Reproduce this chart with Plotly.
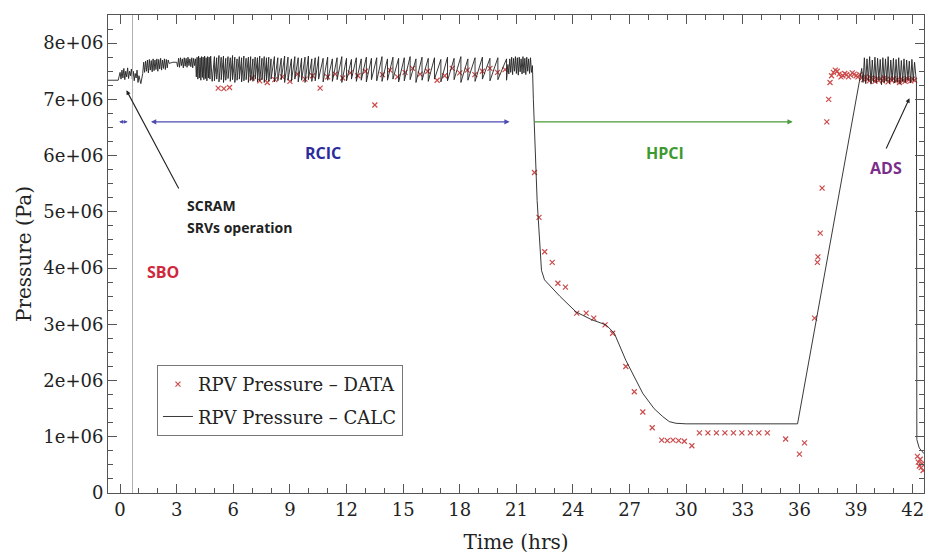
import plotly.graph_objects as go

# ---- CALC: simulated RPV pressure (values in MPa, converted to Pa below) ----
# start of transient, SCRAM / SRV chatter before RCIC takes over
calc_pre_t = [-1.0, -0.1, 0.0, 0.05, 0.1, 0.15, 0.2, 0.25, 0.3, 0.35, 0.4, 0.45, 0.5, 0.55,
              0.6, 0.65, 0.7, 0.75, 0.8, 0.85, 0.9, 0.95, 1.0, 1.1, 1.2,
              1.25, 1.30, 1.35, 1.40, 1.45, 1.50, 1.55, 1.60, 1.65, 1.70, 1.75, 1.80, 1.85,
              1.90, 1.95, 2.00, 2.05, 2.10, 2.15, 2.20, 2.25, 2.30, 2.35, 2.40, 2.45, 2.50,
              2.55, 2.60,
              2.8, 3.0,
              3.05, 3.10, 3.15, 3.20, 3.25, 3.30, 3.35, 3.40, 3.45, 3.50, 3.55, 3.60, 3.65,
              3.70, 3.75, 3.80, 3.85, 3.90, 3.95, 4.00,
              4.04, 4.08, 4.12, 4.16, 4.20, 4.24, 4.28, 4.32, 4.36, 4.40, 4.44, 4.48, 4.52,
              4.56, 4.60, 4.64, 4.68, 4.72, 4.76, 4.80, 4.84, 4.88]
calc_pre_p = [7.34, 7.34, 7.48, 7.36, 7.52, 7.38, 7.55, 7.35, 7.50, 7.40, 7.56, 7.37, 7.50, 7.42,
              7.54, 7.36, 7.50, 7.33, 7.46, 7.38, 7.52, 7.30, 7.42, 7.28, 7.46,
              7.66, 7.48, 7.68, 7.50, 7.70, 7.47, 7.71, 7.52, 7.69, 7.49, 7.72, 7.51, 7.70,
              7.53, 7.72, 7.50, 7.71, 7.54, 7.73, 7.52, 7.70, 7.55, 7.72, 7.53, 7.71, 7.56,
              7.70, 7.64,
              7.66, 7.66,
              7.58, 7.73, 7.57, 7.74, 7.60, 7.72, 7.56, 7.74, 7.59, 7.73, 7.57, 7.75, 7.60,
              7.72, 7.58, 7.74, 7.56, 7.73, 7.60, 7.72,
              7.40, 7.75, 7.36, 7.77, 7.38, 7.74, 7.34, 7.76, 7.39, 7.75, 7.35, 7.77, 7.37,
              7.74, 7.33, 7.76, 7.38, 7.75, 7.36, 7.77, 7.34, 7.32]

# RCIC period: SRV cycling sawtooth (peak time, peak pressure, pressure after the drop)
saw_t = [5.0, 5.12, 5.24, 5.36, 5.48, 5.60, 5.72, 5.84, 5.96, 6.08, 6.20, 6.32, 6.44, 6.56,
         6.68, 6.80, 6.92, 7.04, 7.16, 7.28, 7.40, 7.52, 7.64, 7.76, 7.88, 8.00,
         8.18, 8.36, 8.54, 8.72, 8.90, 9.08, 9.26, 9.44, 9.62, 9.80, 9.98, 10.16, 10.34, 10.52,
         10.76, 11.0, 11.25, 11.50, 11.75, 12.0, 12.26, 12.52, 12.78, 13.05, 13.32, 13.60,
         13.88, 14.17, 14.46, 14.76, 15.06, 15.37, 15.68, 16.0, 16.33, 16.66, 17.0, 17.35,
         17.70, 18.06, 18.43, 18.81, 19.20, 19.60, 20.02, 20.48]
saw_peak = [7.76, 7.74, 7.78, 7.75, 7.77, 7.73, 7.76, 7.74, 7.78, 7.75,
            7.72, 7.76, 7.74, 7.77, 7.73, 7.75, 7.76, 7.72, 7.75, 7.74,
            7.77, 7.73, 7.76, 7.74, 7.75, 7.72, 7.76, 7.74, 7.73, 7.77,
            7.75, 7.72, 7.76, 7.74, 7.73, 7.75, 7.77, 7.72, 7.74, 7.76,
            7.73, 7.75, 7.72, 7.74, 7.76, 7.73, 7.71, 7.74, 7.72, 7.75,
            7.73, 7.74, 7.76, 7.72, 7.75, 7.73, 7.74, 7.76, 7.72, 7.75,
            7.73, 7.74, 7.71, 7.75, 7.73, 7.76, 7.72, 7.74, 7.75, 7.73,
            7.74, 7.72]
saw_low = [7.33, 7.36, 7.31, 7.35, 7.30, 7.34, 7.37, 7.32, 7.35, 7.30,
           7.34, 7.36, 7.31, 7.33, 7.35, 7.30, 7.34, 7.32, 7.36, 7.31,
           7.33, 7.35, 7.30, 7.34, 7.32, 7.36, 7.31, 7.33, 7.35, 7.30,
           7.34, 7.32, 7.36, 7.31, 7.34, 7.30, 7.35, 7.32, 7.33, 7.36,
           7.31, 7.34, 7.32, 7.35, 7.30, 7.33, 7.36, 7.32, 7.34, 7.31,
           7.35, 7.33, 7.32, 7.34, 7.36, 7.31, 7.33, 7.35, 7.30, 7.34,
           7.32, 7.36, 7.31, 7.33, 7.35, 7.30, 7.34, 7.32, 7.36, 7.33,
           7.35, 7.34]

# rapid SRV chatter before the switch to HPCI
calc_chat_t = [20.55, 20.6, 20.65, 20.7, 20.75, 20.8, 20.85, 20.9, 20.95, 21.0, 21.05, 21.1,
               21.15, 21.2, 21.25, 21.3, 21.35, 21.4, 21.45, 21.5, 21.55, 21.6, 21.65, 21.7,
               21.75, 21.8, 21.85]
calc_chat_p = [7.62, 7.45, 7.72, 7.48, 7.75, 7.44, 7.73, 7.50, 7.76, 7.46, 7.74, 7.43,
               7.75, 7.49, 7.72, 7.45, 7.76, 7.47, 7.73, 7.44, 7.75, 7.50, 7.72, 7.46,
               7.74, 7.48, 7.60]

# HPCI depressurisation, plateau and repressurisation
calc_hpci_t = [21.9, 22.1, 22.33, 22.49, 23.3, 24.16, 25.0, 25.75, 26.19, 26.8, 27.7, 28.3,
               28.75, 29.1, 29.45, 30.0, 35.9, 39.3]
calc_hpci_p = [7.00, 5.20, 3.96, 3.79, 3.50, 3.22, 3.08, 2.99, 2.84, 2.36, 1.77, 1.50,
               1.36, 1.27, 1.24, 1.23, 1.23, 7.55]

# SRV chatter before ADS, then the ADS blowdown
calc_end_t = [39.37, 39.44, 39.51, 39.58, 39.65, 39.72, 39.79, 39.86, 39.93, 40.00, 40.07,
              40.14, 40.21, 40.28, 40.35, 40.42, 40.49, 40.56, 40.63, 40.70, 40.77, 40.84,
              40.91, 40.98, 41.05, 41.12, 41.19, 41.26, 41.33, 41.40, 41.47, 41.54, 41.61,
              41.68, 41.75, 41.82, 41.89, 41.96, 42.03, 42.10, 42.17,
              42.2, 42.22, 42.35, 42.6, 43.0]
calc_end_p = [7.30, 7.74, 7.28, 7.72, 7.33, 7.76, 7.27, 7.70, 7.31, 7.75, 7.29,
              7.73, 7.34, 7.71, 7.26, 7.74, 7.30, 7.72, 7.32, 7.76, 7.28, 7.70,
              7.33, 7.73, 7.29, 7.71, 7.31, 7.74, 7.27, 7.69, 7.32, 7.72, 7.30,
              7.70, 7.34, 7.68, 7.29, 7.71, 7.33, 7.66, 7.36,
              7.30, 0.95, 0.80, 0.70, 0.65]

# ---- DATA: measured RPV pressure (MPa) ----
data_t = [5.2, 5.5, 5.8, 7.0, 7.4, 7.8, 8.2, 8.6, 9.0, 9.4, 9.8, 10.2, 10.6, 11.0, 11.4,
          11.8, 12.2, 12.6, 13.0, 13.5, 13.9, 14.3, 14.7, 15.1, 15.5, 15.9, 16.3, 16.8,
          17.2, 17.6, 18.0, 18.4, 18.8, 19.2, 19.6, 20.0, 20.4,
          21.96, 22.2, 22.5, 22.9, 23.2, 23.6, 24.2, 24.7, 25.1, 25.7, 26.1, 26.8, 27.25,
          27.7, 28.2, 28.7, 29.0, 29.3, 29.6, 29.9, 30.3,
          30.7, 31.15, 31.6, 32.05, 32.5, 32.95, 33.4, 33.85, 34.3, 35.27, 36.0, 36.27,
          36.8, 36.95, 36.98, 37.1, 37.2, 37.45, 37.55, 37.62,
          37.7, 37.8, 37.9, 38.0, 38.1, 38.2, 38.3, 38.4, 38.5, 38.6, 38.7, 38.8, 38.9,
          39.0, 39.1, 39.2, 39.3, 39.4, 39.5, 39.6, 39.7, 39.8, 39.9, 40.0, 40.1, 40.2,
          40.3, 40.4, 40.5, 40.6, 40.7, 40.8, 40.9, 41.0, 41.1, 41.2, 41.3, 41.4, 41.5,
          41.6, 41.7, 41.8, 41.9, 42.0, 42.1,
          42.25, 42.3, 42.35, 42.4, 42.45, 42.5, 42.55]
data_p = [7.20, 7.19, 7.21, 7.38, 7.33, 7.30, 7.35, 7.40, 7.32, 7.45, 7.36, 7.42, 7.20, 7.40,
          7.45, 7.38, 7.47, 7.42, 7.50, 6.90, 7.44, 7.52, 7.40, 7.48, 7.55, 7.45, 7.50, 7.34,
          7.42, 7.55, 7.47, 7.52, 7.44, 7.50, 7.55, 7.48, 7.53,
          5.70, 4.90, 4.29, 4.10, 3.73, 3.66, 3.20, 3.20, 3.11, 2.99, 2.84, 2.25, 1.80,
          1.44, 1.16, 0.94, 0.93, 0.94, 0.93, 0.92, 0.84,
          1.07, 1.07, 1.07, 1.07, 1.07, 1.07, 1.07, 1.07, 1.07, 0.96, 0.69, 0.89,
          3.11, 4.10, 4.20, 4.62, 5.42, 6.60, 7.00, 7.30,
          7.42, 7.48, 7.52, 7.50, 7.45, 7.40, 7.42, 7.46, 7.44, 7.40, 7.43, 7.47, 7.45,
          7.42, 7.40, 7.44, 7.38, 7.35, 7.40, 7.36, 7.33, 7.38, 7.35, 7.32, 7.37, 7.34,
          7.36, 7.33, 7.38, 7.35, 7.31, 7.36, 7.34, 7.37, 7.33, 7.35, 7.30, 7.36, 7.34,
          7.32, 7.37, 7.35, 7.33, 7.36, 7.34,
          0.65, 0.55, 0.48, 0.60, 0.45, 0.52, 0.40]

# axis ticks
y_tickvals = [0, 1e6, 2e6, 3e6, 4e6, 5e6, 6e6, 7e6, 8e6]
y_ticktext = ["0", "1e+06", "2e+06", "3e+06", "4e+06", "5e+06", "6e+06", "7e+06", "8e+06"]
x_tickvals = [0, 3, 6, 9, 12, 15, 18, 21, 24, 27, 30, 33, 36, 39, 42]

# assemble the CALC curve: each sawtooth peak is followed by a vertical drop
saw_line_t, saw_line_p = [], []
for t, hi, lo in zip(saw_t, saw_peak, saw_low):
    saw_line_t += [t, t]
    saw_line_p += [hi, lo]

calc_t = calc_pre_t + saw_line_t + calc_chat_t + calc_hpci_t + calc_end_t
calc_p = [v * 1e6 for v in calc_pre_p + saw_line_p + calc_chat_p + calc_hpci_p + calc_end_p]
data_pa = [v * 1e6 for v in data_p]

SERIF = "DejaVu Serif"
SANS = "Open Sans"
AX = "#555555"

fig = go.Figure()
fig.add_trace(go.Scatter(
    x=data_t, y=data_pa, mode="markers", name="RPV Pressure \u2013 DATA",
    marker=dict(symbol="x-thin", size=5, line=dict(width=1.2, color="#cc4b4b"), color="#cc4b4b"),
    legendgroup="a",
))
fig.add_trace(go.Scatter(
    x=calc_t, y=calc_p, mode="lines", name="RPV Pressure \u2013 CALC",
    line=dict(color="#222222", width=0.9),
    legendgroup="b",
))

# SBO time marker
fig.add_shape(type="line", x0=0.66, x1=0.66, y0=0, y1=1, xref="x", yref="paper",
              line=dict(color="#b0b0b0", width=1))

ann = []
# system operation arrows
ann.append(dict(x=20.64, y=6.6e6, ax=1.56, ay=6.6e6, xref="x", yref="y", axref="x", ayref="y",
                text="", showarrow=True, arrowhead=2, startarrowhead=2, arrowside="end+start",
                arrowsize=0.8, arrowwidth=1.3, arrowcolor="#4b4bb0"))
ann.append(dict(x=0.4, y=6.6e6, ax=-0.13, ay=6.6e6, xref="x", yref="y", axref="x", ayref="y",
                text="", showarrow=True, arrowhead=2, startarrowhead=2, arrowside="end+start",
                arrowsize=0.6, arrowwidth=1.3, arrowcolor="#4b4bb0"))
ann.append(dict(x=35.64, y=6.6e6, ax=21.86, ay=6.6e6, xref="x", yref="y", axref="x", ayref="y",
                text="", showarrow=True, arrowhead=2, arrowsize=0.8, arrowwidth=1.3,
                arrowcolor="#4a9a3a"))
# event pointers
ann.append(dict(x=0.34, y=7.16e6, ax=3.15, ay=5.39e6, xref="x", yref="y", axref="x", ayref="y",
                text="", showarrow=True, arrowhead=2, arrowsize=0.8, arrowwidth=1.1,
                arrowcolor="#222222"))
ann.append(dict(x=41.83, y=7.02e6, ax=40.56, ay=6.1e6, xref="x", yref="y", axref="x", ayref="y",
                text="", showarrow=True, arrowhead=2, arrowsize=0.8, arrowwidth=1.1,
                arrowcolor="#222222"))
# labels
ann.append(dict(x=3.42, y=5.12e6, text="<b>SCRAM</b>", xanchor="left", showarrow=False,
                font=dict(family=SANS, size=14, color="#222222")))
ann.append(dict(x=3.42, y=4.73e6, text="<b>SRVs operation</b>", xanchor="left", showarrow=False,
                font=dict(family=SANS, size=14, color="#222222")))
ann.append(dict(x=2.25, y=3.93e6, text="<b>SBO</b>", showarrow=False,
                font=dict(family=SANS, size=16, color="#d0283c")))
ann.append(dict(x=10.73, y=6.04e6, text="<b>RCIC</b>", showarrow=False,
                font=dict(family=SANS, size=16, color="#2b2b9e")))
ann.append(dict(x=28.85, y=6.04e6, text="<b>HPCI</b>", showarrow=False,
                font=dict(family=SANS, size=16, color="#3c9a2e")))
ann.append(dict(x=40.57, y=5.78e6, text="<b>ADS</b>", showarrow=False,
                font=dict(family=SANS, size=16, color="#7b2d8b")))

fig.update_layout(
    width=925, height=556,
    margin=dict(l=108, r=1, t=15, b=63),
    paper_bgcolor="white", plot_bgcolor="white",
    annotations=ann,
    showlegend=True,
    legend=dict(x=0.06, y=0.268, xanchor="left", yanchor="top",
                bgcolor="white", bordercolor="#777777", borderwidth=1,
                font=dict(family=SERIF, size=18, color="#222222"),
                itemwidth=30, traceorder="grouped", tracegroupgap=6),
    xaxis=dict(
        range=[-0.64, 42.6], tickmode="array", tickvals=x_tickvals,
        ticks="inside", ticklen=9, tickcolor=AX, tickwidth=1,
        showline=True, linecolor=AX, linewidth=1, mirror="ticks",
        showgrid=False, zeroline=False,
        minor=dict(tickmode="linear", tick0=0, dtick=1, ticks="inside", ticklen=5,
                   tickcolor=AX, showgrid=False),
        tickfont=dict(family=SERIF, size=18, color="#222222"),
        title=dict(text="Time (hrs)", font=dict(family=SERIF, size=20, color="#222222"),
                   standoff=16),
    ),
    yaxis=dict(
        range=[0, 8.5e6], tickmode="array", tickvals=y_tickvals, ticktext=y_ticktext,
        ticks="inside", ticklen=9, tickcolor=AX, tickwidth=1,
        showline=True, linecolor=AX, linewidth=1, mirror="ticks",
        showgrid=False, zeroline=False,
        minor=dict(tickmode="linear", tick0=0, dtick=250000, ticks="inside", ticklen=5,
                   tickcolor=AX, showgrid=False),
        tickfont=dict(family=SERIF, size=18, color="#222222"),
        title=dict(text="Pressure (Pa)", font=dict(family=SERIF, size=20, color="#222222"),
                   standoff=6),
    ),
)

fig.write_html("out.html")
